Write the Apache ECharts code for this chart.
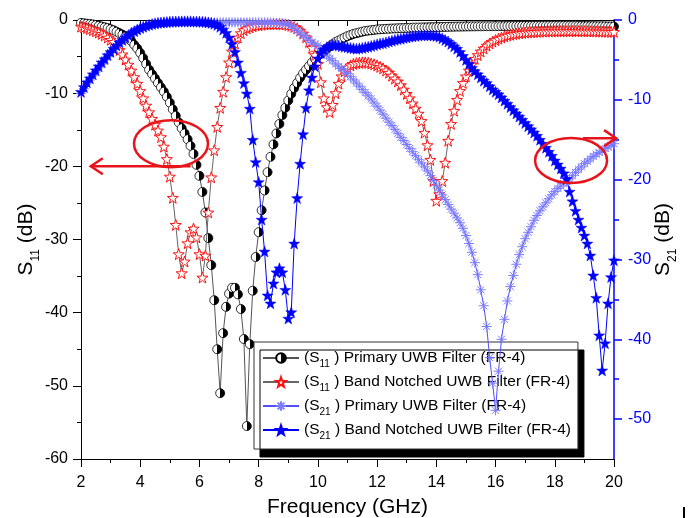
<!DOCTYPE html>
<html>
<head>
<meta charset="utf-8">
<script src="https://cdn.jsdelivr.net/npm/echarts@6/dist/echarts.min.js"></script>
<style>
html,body{margin:0;padding:0;background:#fff;}
#c{width:695px;height:518px;}
</style>
</head>
<body>
<div id="c"></div>
<script>
// Frequency grid (GHz): 2.0 to 20.0 in 0.1 GHz steps
const freqStart = 2.0, freqStep = 0.1, freqCount = 181;
const freq = Array.from({length: freqCount}, (_, i) => +(freqStart + i * freqStep).toFixed(1));

const xTicks = [2, 4, 6, 8, 10, 12, 14, 16, 18, 20];
const leftTicks = [0, -10, -20, -30, -40, -50, -60];
const rightTicks = [0, -10, -20, -30, -40, -50];
const rightMinorTicks = [-5, -15, -25, -35, -45];

const seriesNames = [
  '(S11 ) Primary UWB Filter (FR-4)',
  '(S11 ) Band Notched UWB Filter (FR-4)',
  '(S21 ) Primary UWB Filter (FR-4)',
  '(S21 ) Band Notched UWB Filter (FR-4)'
];

// S11 Primary UWB Filter (left axis, dB)
const s11Primary = [
  -0.4,-0.45,-0.5,-0.55,-0.6,-0.7,-0.8,-0.9,-1.0,-1.1,
  -1.25,-1.4,-1.6,-1.8,-2.0,-2.25,-2.55,-2.9,-3.4,-3.9,
  -4.5,-5.2,-6.0,-6.8,-7.4,-8.0,-8.6,-9.2,-9.8,-10.5,
  -11.3,-12.2,-13.1,-14.0,-14.8,-15.5,-16.3,-17.2,-18.3,-19.8,
  -21.3,-23.5,-26.3,-29.8,-33.5,-38.3,-45.0,-51.0,-42.8,-39.2,
  -37.4,-36.6,-36.6,-37.5,-39.5,-43.6,-55.5,-44.3,-37.0,-32.4,
  -29.0,-26.0,-23.3,-20.8,-18.7,-17.0,-15.5,-14.2,-13.0,-12.0,
  -11.0,-10.1,-9.3,-8.6,-7.9,-7.3,-6.8,-6.3,-5.8,-5.3,
  -4.9,-4.6,-4.3,-3.95,-3.6,-3.3,-3.0,-2.8,-2.6,-2.4,
  -2.2,-2.05,-1.9,-1.8,-1.7,-1.6,-1.5,-1.45,-1.4,-1.35,
  -1.3,-1.27,-1.24,-1.21,-1.19,-1.17,-1.15,-1.13,-1.11,-1.1,
  -1.08,-1.07,-1.05,-1.04,-1.03,-1.02,-1.01,-1.0,-0.99,-0.98,
  -0.97,-0.96,-0.95,-0.94,-0.93,-0.92,-0.91,-0.9,-0.9,-0.89,
  -0.88,-0.88,-0.87,-0.87,-0.86,-0.86,-0.85,-0.85,-0.85,-0.84,
  -0.84,-0.84,-0.83,-0.83,-0.83,-0.82,-0.82,-0.82,-0.82,-0.81,
  -0.81,-0.81,-0.81,-0.8,-0.8,-0.8,-0.8,-0.8,-0.8,-0.8,
  -0.8,-0.8,-0.8,-0.8,-0.81,-0.81,-0.81,-0.82,-0.82,-0.82,
  -0.83,-0.83,-0.84,-0.84,-0.85,-0.86,-0.86,-0.87,-0.88,-0.89,
  -0.9
];

// S11 Band Notched UWB Filter (left axis, dB)
const s11Notched = [
  -0.9,-1.0,-1.1,-1.25,-1.4,-1.55,-1.7,-1.9,-2.1,-2.4,
  -2.7,-3.0,-3.5,-4.1,-4.7,-5.4,-6.1,-6.9,-7.8,-8.7,
  -9.7,-10.7,-11.7,-12.6,-13.5,-14.3,-15.1,-16.0,-17.3,-19.0,
  -21.4,-24.3,-28.0,-32.0,-34.6,-33.0,-30.5,-29.0,-28.5,-29.7,
  -32.0,-35.2,-32.2,-26.3,-21.5,-17.8,-14.6,-12.0,-9.8,-7.8,
  -5.8,-4.3,-3.2,-2.4,-1.8,-1.4,-1.15,-1.0,-0.85,-0.75,
  -0.7,-0.65,-0.6,-0.58,-0.56,-0.55,-0.55,-0.56,-0.58,-0.62,
  -0.7,-0.8,-0.95,-1.15,-1.45,-1.85,-2.35,-3.0,-3.8,-4.8,
  -6.0,-8.5,-10.7,-11.9,-12.6,-11.6,-10.0,-8.7,-7.7,-7.0,
  -6.5,-6.2,-6.0,-5.9,-5.85,-5.8,-5.8,-5.85,-5.95,-6.05,
  -6.2,-6.4,-6.6,-6.9,-7.2,-7.6,-8.0,-8.4,-8.9,-9.5,
  -10.1,-10.7,-11.4,-12.1,-12.8,-13.8,-15.4,-17.1,-19.1,-22.0,
  -24.7,-23.8,-22.0,-19.5,-16.5,-14.2,-12.4,-10.9,-9.7,-8.6,
  -7.7,-6.9,-6.1,-5.3,-4.8,-4.3,-3.9,-3.5,-3.2,-2.95,
  -2.75,-2.55,-2.4,-2.25,-2.12,-2.02,-1.94,-1.87,-1.81,-1.76,
  -1.72,-1.69,-1.66,-1.63,-1.61,-1.59,-1.57,-1.56,-1.55,-1.54,
  -1.53,-1.52,-1.52,-1.51,-1.51,-1.51,-1.51,-1.51,-1.52,-1.52,
  -1.53,-1.53,-1.54,-1.55,-1.56,-1.57,-1.58,-1.59,-1.6,-1.61,
  -1.62
];

// S21 Primary UWB Filter (right axis, dB)
const s21Primary = [
  -9.2,-8.6,-8.0,-7.5,-7.0,-6.5,-6.0,-5.5,-5.0,-4.6,
  -4.1,-3.7,-3.3,-2.9,-2.6,-2.3,-2.0,-1.7,-1.5,-1.3,
  -1.1,-0.95,-0.8,-0.7,-0.6,-0.5,-0.45,-0.4,-0.37,-0.35,
  -0.33,-0.32,-0.31,-0.3,-0.3,-0.3,-0.3,-0.3,-0.3,-0.3,
  -0.3,-0.3,-0.3,-0.3,-0.3,-0.3,-0.3,-0.3,-0.3,-0.3,
  -0.3,-0.3,-0.3,-0.3,-0.3,-0.3,-0.3,-0.3,-0.3,-0.3,
  -0.3,-0.3,-0.3,-0.3,-0.32,-0.34,-0.36,-0.38,-0.42,-0.46,
  -0.5,-0.7,-1.0,-1.3,-1.6,-1.9,-2.2,-2.5,-2.8,-3.0,
  -3.2,-3.6,-4.0,-4.4,-4.8,-5.1,-5.5,-5.8,-6.1,-6.4,
  -6.7,-7.1,-7.5,-7.9,-8.3,-8.7,-9.1,-9.5,-9.9,-10.4,
  -10.8,-11.3,-11.8,-12.3,-12.8,-13.2,-13.7,-14.2,-14.7,-15.1,
  -15.6,-16.1,-16.5,-17.0,-17.5,-17.9,-18.4,-18.9,-19.5,-20.1,
  -20.7,-21.3,-21.9,-22.5,-23.1,-23.7,-24.2,-24.8,-25.4,-26.1,
  -27.0,-28.0,-29.1,-30.4,-31.9,-33.8,-35.8,-38.4,-42.3,-45.5,
  -48.9,-44.0,-40.0,-37.5,-35.2,-33.4,-32.0,-30.6,-29.4,-28.4,
  -27.4,-26.6,-25.9,-25.1,-24.5,-23.9,-23.4,-22.9,-22.4,-21.9,
  -21.5,-21.1,-20.8,-20.5,-20.2,-19.9,-19.5,-19.1,-18.7,-18.4,
  -18.0,-17.7,-17.4,-17.1,-16.8,-16.6,-16.4,-16.1,-15.9,-15.7,
  -15.5
];

// S21 Band Notched UWB Filter (right axis, dB)
const s21Notched = [
  -9.0,-8.4,-7.8,-7.3,-6.8,-6.3,-5.8,-5.3,-4.9,-4.4,
  -4.0,-3.6,-3.2,-2.8,-2.5,-2.2,-1.9,-1.6,-1.4,-1.2,
  -1.0,-0.85,-0.7,-0.6,-0.5,-0.42,-0.36,-0.32,-0.28,-0.25,
  -0.22,-0.2,-0.19,-0.18,-0.17,-0.17,-0.17,-0.17,-0.18,-0.19,
  -0.2,-0.22,-0.25,-0.3,-0.37,-0.47,-0.62,-0.85,-1.2,-1.6,
  -2.2,-3.0,-4.0,-5.3,-6.6,-7.9,-9.2,-11.1,-15.0,-17.8,
  -20.3,-25.0,-29.0,-34.5,-35.5,-33.0,-31.6,-31.1,-31.6,-33.8,
  -37.4,-36.6,-28.0,-22.3,-18.0,-14.3,-11.0,-8.8,-7.2,-5.8,
  -4.8,-4.1,-3.7,-3.4,-3.2,-3.1,-3.15,-3.2,-3.3,-3.35,
  -3.4,-3.5,-3.55,-3.6,-3.55,-3.5,-3.4,-3.35,-3.25,-3.15,
  -3.05,-2.95,-2.9,-2.8,-2.7,-2.6,-2.5,-2.4,-2.35,-2.25,
  -2.2,-2.1,-2.05,-2.0,-1.95,-1.9,-1.9,-1.9,-1.9,-1.95,
  -2.0,-2.1,-2.3,-2.5,-2.7,-3.0,-3.3,-3.6,-4.0,-4.5,
  -5.0,-5.5,-6.0,-6.4,-6.8,-7.2,-7.6,-7.9,-8.3,-8.7,
  -9.0,-9.3,-9.7,-10.1,-10.5,-10.9,-11.3,-11.7,-12.1,-12.5,
  -12.9,-13.3,-13.7,-14.1,-14.5,-15.0,-15.5,-16.0,-16.5,-17.0,
  -17.6,-18.1,-18.6,-19.2,-19.9,-21.5,-22.7,-23.9,-25.0,-26.0,
  -27.0,-28.0,-29.5,-32.0,-34.8,-39.5,-43.9,-40.5,-35.5,-32.2,
  -30.1
];

const FONT = '"Liberation Sans", Arial, Helvetica, sans-serif';
const STAR = 'path://M0,-10L2.35,-3.24L9.51,-3.09L3.8,1.24L5.88,8.09L0,4L-5.88,8.09L-3.8,1.24L-9.51,-3.09L-2.35,-3.24Z';
const ASTER = 'path://M0,-10L0,10M-10,0L10,0M-7.07,-7.07L7.07,7.07M-7.07,7.07L7.07,-7.07';

function pairs(vals) { return freq.map((f, i) => [f, vals[i]]); }

const chart = echarts.init(document.getElementById('c'), null, {renderer: 'canvas'});

const halfFill = new echarts.graphic.LinearGradient(0, 0, 1, 0, [
  {offset: 0, color: '#ffffff'}, {offset: 0.5, color: '#ffffff'},
  {offset: 0.5, color: '#000000'}, {offset: 1, color: '#000000'}
]);

const axisNameRich = {sub: {fontSize: 12, fontFamily: FONT, verticalAlign: 'bottom', lineHeight: 12, padding: [0, 0, -5, 0], color: '#000'}};

const option = {
  animation: false,
  backgroundColor: '#fff',
  textStyle: {fontFamily: FONT},
  grid: {left: 81, right: 81, top: 20, bottom: 59, containLabel: false, outerBoundsMode: 'none'},
  legend: {
    orient: 'vertical',
    left: 254, top: 342,
    padding: [7, 7, 8, 8],
    itemWidth: 36, itemHeight: 12, itemGap: 4,
    backgroundColor: '#fff',
    borderColor: '#333', borderWidth: 1,
    shadowColor: '#000', shadowBlur: 0, shadowOffsetX: 6, shadowOffsetY: 8,
    data: seriesNames,
    formatter: n => n.replace(/S(\d\d)/, 'S{sub|$1}'),
    textStyle: {
      fontSize: 15.5, fontFamily: FONT, color: '#000', lineHeight: 18,
      rich: {sub: {fontSize: 10, fontFamily: FONT, verticalAlign: 'bottom', lineHeight: 8, padding: [0, 0, -2, 0], color: '#000'}}
    }
  },
  xAxis: [{
    type: 'value', min: 2, max: 20, interval: 2, position: 'bottom',
    name: 'Frequency (GHz)', nameLocation: 'middle', nameGap: 38,
    nameTextStyle: {fontSize: 21, color: '#000', fontFamily: FONT},
    axisLine: {show: true, onZero: false, lineStyle: {color: '#000', width: 1}},
    axisTick: {show: true, length: 8, lineStyle: {color: '#000', width: 1}},
    minorTick: {show: true, splitNumber: 2, length: 4, lineStyle: {color: '#000', width: 1}},
    axisLabel: {fontSize: 16, color: '#000', margin: 16, fontFamily: FONT,
      formatter: v => xTicks.includes(v) ? String(v) : ''},
    splitLine: {show: false}
  }, {
    type: 'value', min: 2, max: 20, interval: 2, position: 'top',
    axisLine: {show: true, onZero: false, lineStyle: {color: '#000', width: 1}},
    axisTick: {show: true, inside: true, length: 6, lineStyle: {color: '#000'}},
    minorTick: {show: true, splitNumber: 2, length: 6, lineStyle: {color: '#000'}},
    axisLabel: {show: false},
    splitLine: {show: false}
  }],
  yAxis: [{
    type: 'value', min: -60, max: 0, interval: 10, position: 'left',
    name: 'S{sub|11} (dB)', nameLocation: 'middle', nameRotate: 90, nameGap: 44,
    nameMoveOverlap: false,
    nameTextStyle: {fontSize: 21, color: '#000', fontFamily: FONT, rich: axisNameRich},
    axisLine: {show: true, onZero: false, lineStyle: {color: '#000', width: 1}},
    axisTick: {show: true, length: 8, lineStyle: {color: '#000'}},
    minorTick: {show: true, splitNumber: 2, length: 4, lineStyle: {color: '#000'}},
    axisLabel: {fontSize: 16, color: '#000', margin: 13, fontFamily: FONT,
      formatter: v => leftTicks.includes(v) ? String(v) : ''},
    splitLine: {show: false}
  }, {
    type: 'value', min: -55, max: 0, position: 'right', alignTicks: false,
    name: 'S{sub|21} (dB)', nameLocation: 'middle', nameRotate: 90, nameGap: 39,
    nameMoveOverlap: false,
    nameTextStyle: {fontSize: 21, color: '#000', fontFamily: FONT, rich: axisNameRich},
    axisLine: {show: true, onZero: false, lineStyle: {color: '#0000ff', width: 1.5}},
    axisTick: {show: true, length: 8, customValues: rightTicks, lineStyle: {color: '#0000ff', width: 1.5}},
    axisLabel: {fontSize: 16, color: '#0000ff', margin: 14, fontFamily: FONT, customValues: rightTicks},
    splitLine: {show: false}
  }, {
    type: 'value', min: -55, max: 0, position: 'right', alignTicks: false,
    axisLine: {show: false},
    axisTick: {show: true, length: 5, customValues: rightMinorTicks, lineStyle: {color: '#0000ff', width: 1.5}},
    axisLabel: {show: false, customValues: rightMinorTicks},
    splitLine: {show: false}
  }],
  series: [{
    name: seriesNames[0], type: 'line', xAxisIndex: 0, yAxisIndex: 0,
    data: pairs(s11Primary),
    symbol: 'circle', symbolSize: 9,
    itemStyle: {color: halfFill, borderColor: '#000', borderWidth: 0.8},
    lineStyle: {color: '#555', width: 1},
    z: 2
  }, {
    name: seriesNames[1], type: 'line', xAxisIndex: 0, yAxisIndex: 0,
    data: pairs(s11Notched),
    symbol: STAR, symbolSize: 11,
    itemStyle: {color: '#ffffff', borderColor: '#ff1010', borderWidth: 1},
    lineStyle: {color: '#666', width: 1},
    z: 3
  }, {
    name: seriesNames[2], type: 'line', xAxisIndex: 0, yAxisIndex: 1,
    data: pairs(s21Primary),
    symbol: ASTER, symbolSize: 10,
    itemStyle: {color: 'rgba(0,0,0,0)', borderColor: '#7b7bff', borderWidth: 1},
    lineStyle: {color: '#5050ff', width: 1},
    z: 4
  }, {
    name: seriesNames[3], type: 'line', xAxisIndex: 0, yAxisIndex: 1,
    data: pairs(s21Notched),
    symbol: STAR, symbolSize: 11,
    itemStyle: {color: '#0000ff', borderColor: '#0000ff', borderWidth: 0.5},
    lineStyle: {color: '#0000ff', width: 1},
    z: 5
  }]
};

chart.setOption(option);

// Annotations (red ellipses and arrows) placed through the axes
const pL = (f, v) => chart.convertToPixel({xAxisIndex: 0, yAxisIndex: 0}, [f, v]);
const pR = (f, v) => chart.convertToPixel({xAxisIndex: 0, yAxisIndex: 1}, [f, v]);
const RED = '#e8141b';
const e1 = pL(5.04, -16.9);
const a1s = pL(5.7, -20), a1e = pL(2.33, -20);
const e2 = pR(18.55, -17.6);
const a2s = pR(18.95, -14.8), a2e = pR(20.07, -14.8);
chart.setOption({
  graphic: [
    {type: 'ellipse', shape: {cx: e1[0], cy: e1[1], rx: 37, ry: 23.5}, style: {fill: 'none', stroke: RED, lineWidth: 2.5}, z: 100},
    {type: 'line', shape: {x1: a1s[0], y1: a1s[1], x2: a1e[0], y2: a1e[1]}, style: {stroke: RED, lineWidth: 2.5}, z: 100},
    {type: 'polyline', shape: {points: [[a1e[0] + 12, a1e[1] - 8], [a1e[0], a1e[1]], [a1e[0] + 12, a1e[1] + 8]]}, style: {fill: 'none', stroke: RED, lineWidth: 2.5}, z: 100},
    {type: 'ellipse', shape: {cx: e2[0], cy: e2[1], rx: 36, ry: 22.5}, style: {fill: 'none', stroke: RED, lineWidth: 2.5}, z: 100},
    {type: 'line', shape: {x1: a2s[0], y1: a2s[1], x2: a2e[0], y2: a2e[1]}, style: {stroke: RED, lineWidth: 2.5}, z: 100},
    {type: 'polyline', shape: {points: [[a2e[0] - 12, a2e[1] - 8], [a2e[0], a2e[1]], [a2e[0] - 12, a2e[1] + 8]]}, style: {fill: 'none', stroke: RED, lineWidth: 2.5}, z: 100},
    {type: 'rect', shape: {x: 683, y: 507, width: 2, height: 11}, style: {fill: '#000'}, z: 100}
  ]
});
</script>
</body>
</html>
